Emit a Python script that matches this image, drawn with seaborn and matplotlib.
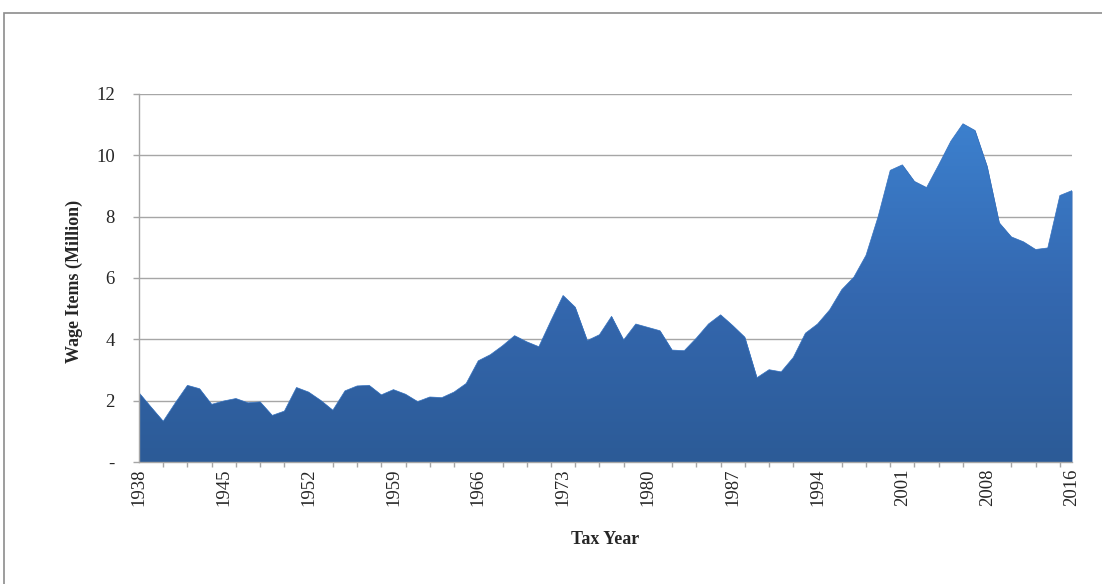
import numpy as np
import matplotlib
matplotlib.use("Agg")
import matplotlib.pyplot as plt
import matplotlib.patches as patches
from matplotlib.colors import LinearSegmentedColormap
import seaborn as sns

# tax years on the category axis (78 rows, one year between 2009 and 2015 is absent)
years = list(range(1938, 2015)) + [2016]
# wage items, millions
wage_items = [
    2.26, 1.79, 1.33, 1.93, 2.50, 2.39, 1.88, 1.99, 2.07, 1.93,
    1.96, 1.52, 1.66, 2.43, 2.28, 2.01, 1.69, 2.32, 2.48, 2.50,
    2.19, 2.36, 2.21, 1.97, 2.12, 2.10, 2.28, 2.56, 3.30, 3.50,
    3.79, 4.12, 3.92, 3.76, 4.61, 5.43, 5.05, 3.96, 4.15, 4.75,
    3.98, 4.50, 4.39, 4.28, 3.65, 3.63, 4.04, 4.50, 4.80, 4.45,
    4.07, 2.75, 3.01, 2.94, 3.41, 4.20, 4.50, 4.96, 5.62, 6.03,
    6.74, 8.00, 9.51, 9.69, 9.15, 8.95, 9.69, 10.46, 11.03, 10.81,
    9.64, 7.80, 7.34, 7.18, 6.93, 6.98, 8.69, 8.85,
]
label_every = 7
tick_every = 2
y_ticks = [0, 2, 4, 6, 8, 10, 12]
y_tick_labels = ["-", "2", "4", "6", "8", "10", "12"]

sns.set_style("white")
plt.rcParams["font.family"] = ["Liberation Serif", "DejaVu Serif"]

pos = np.arange(len(years))
vals = np.array(wage_items)

fig = plt.figure(figsize=(11.02, 5.84), dpi=100)
ax = fig.add_axes([139 / 1102, 1 - 462 / 584, 933 / 1102, 368 / 584])

# outer chart border (cropped on the right and bottom like the original)
fig.patches.append(patches.Rectangle((4 / 1102, -0.1), 1.2, 0.1 + (584 - 13) / 584,
                                     transform=fig.transFigure, fill=False,
                                     edgecolor="#8c8c8c", linewidth=1.2, zorder=0))

for yv in y_ticks[1:]:
    ax.axhline(yv, color="#a6a6a6", linewidth=1.0, zorder=1)

# area with vertical gradient fill
area = ax.fill_between(pos, 0, vals, color="#3468b0", linewidth=0, zorder=2)
cmap = LinearSegmentedColormap.from_list("wage", ["#2c5b97", "#3468b0", "#3c80ce"])
grad = np.linspace(0, 1, 256).reshape(-1, 1)
img = ax.imshow(grad, cmap=cmap, aspect="auto", origin="lower",
                extent=[pos[0], pos[-1], 0, vals.max()], zorder=3)
img.set_clip_path(area.get_paths()[0], transform=ax.transData)
sns.lineplot(x=pos, y=vals, ax=ax, color="#3874c0", linewidth=0.5, zorder=4)

ax.set_xlim(pos[0], pos[-1])
ax.set_ylim(0, 12)

ax.set_xticks(pos[::label_every])
ax.set_xticklabels([str(y) for y in years[::label_every]], rotation=90, fontsize=13.5)
ax.set_xticks(pos[::tick_every], minor=True)
ax.tick_params(axis="x", which="major", length=0, pad=5)
ax.tick_params(axis="x", which="minor", length=3.6, width=1, color="#a6a6a6", bottom=True)

ax.set_yticks(y_ticks)
ax.set_yticklabels(y_tick_labels, fontsize=13.5)
ax.tick_params(axis="y", length=4.3, width=1, color="#a6a6a6", pad=13, left=True)

for side in ["top", "right"]:
    ax.spines[side].set_visible(False)
for side in ["left", "bottom"]:
    ax.spines[side].set_color("#a6a6a6")
    ax.spines[side].set_linewidth(1.0)
    ax.spines[side].set_zorder(5)

ax.set_xlabel("Tax Year", fontsize=13, fontweight="bold")
ax.set_ylabel("Wage Items (Million)", fontsize=13, fontweight="bold")
ax.xaxis.set_label_coords(0.5, -(531 - 462) / 368)
ax.yaxis.set_label_coords(-(139 - 83) / 933, 0.49)

fig.savefig("out.png", dpi=100)
